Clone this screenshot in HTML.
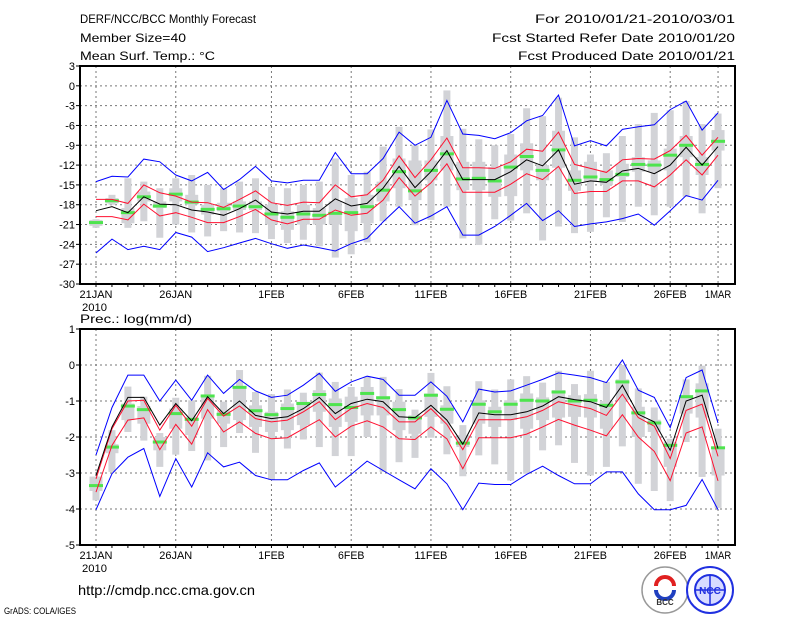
<!DOCTYPE html>
<html><head><meta charset="utf-8"><style>
html,body{margin:0;padding:0;background:#fff;}
svg{display:block;font-family:"Liberation Sans",sans-serif;}
</style></head><body>
<svg id="c" width="800" height="618" viewBox="0 0 800 618">
<g id="hdr" font-size="12" fill="#000">
<text x="80" y="23" textLength="176" lengthAdjust="spacingAndGlyphs">DERF/NCC/BCC Monthly Forecast</text>
<text x="80" y="42" textLength="106" lengthAdjust="spacingAndGlyphs">Member Size=40</text>
<text x="80" y="60" textLength="135" lengthAdjust="spacingAndGlyphs">Mean Surf. Temp.: °C</text>
<text x="535" y="23" textLength="200" lengthAdjust="spacingAndGlyphs">For 2010/01/21-2010/03/01</text>
<text x="492" y="42" textLength="243" lengthAdjust="spacingAndGlyphs">Fcst Started Refer Date 2010/01/20</text>
<text x="518" y="60" textLength="217" lengthAdjust="spacingAndGlyphs">Fcst Produced Date 2010/01/21</text>
<text x="80" y="323" textLength="112" lengthAdjust="spacingAndGlyphs">Prec.: log(mm/d)</text>
<text x="78" y="595" font-size="14" textLength="177" lengthAdjust="spacingAndGlyphs">http://cmdp.ncc.cma.gov.cn</text>
<text x="4" y="614" font-size="9" textLength="72" lengthAdjust="spacingAndGlyphs">GrADS: COLA/IGES</text>
</g>
<g>
<circle cx="665" cy="590" r="23" fill="#fff" stroke="#999" stroke-width="1.5"/>
<path d="M656 586 a9 9 0 1 1 18 0" fill="none" stroke="#e02020" stroke-width="4"/>
<path d="M656 590 a9 9 0 0 0 18 0" fill="none" stroke="#2040c0" stroke-width="4"/>
<text x="665" y="605" font-size="8" font-weight="bold" text-anchor="middle" fill="#333">BCC</text>
</g>
<g>
<circle cx="710" cy="590" r="23" fill="#fff" stroke="#2030e0" stroke-width="2"/>
<circle cx="710" cy="590" r="15" fill="#d8dcff" stroke="#2030e0" stroke-width="2"/>
<path d="M695 590 h30 M710 575 v30" stroke="#2030e0" stroke-width="1.5"/>
<text x="710" y="594" font-size="10" font-weight="bold" text-anchor="middle" fill="#2030e0">NCC</text>
</g>
<g id="p1"></g>
<g id="p2"></g>
</svg>
<script>
// ---- Temperature panel data (deg C) ----
const days = ["21JAN","","","","","26JAN","","","","","","1FEB","","","","","6FEB","","","","","11FEB","","","","","16FEB","","","","","21FEB","","","","","26FEB","","","1MAR"];
const tBlueHi = [-14.5,-13.7,-13.8,-11.1,-11.5,-13.5,-14.4,-13.1,-15.7,-14.2,-12.2,-14.4,-14.7,-14.3,-14.3,-10.1,-13.3,-13.3,-11,-7,-9,-7.8,-2.2,-7.3,-7.5,-8,-7.1,-5.3,-4.5,-1.4,-9.1,-8.3,-9.1,-6.6,-6.2,-5.9,-3.6,-2.3,-6.7,-4.1];
const tRedHi = [-17.2,-17.2,-17.8,-15,-16.2,-16.7,-17.6,-17.7,-18.4,-17.2,-15.9,-17.7,-18.1,-17.6,-17.7,-15,-16.8,-16.5,-14.3,-10.6,-13.9,-11.2,-7.9,-12.4,-12.4,-12.5,-11.5,-9.6,-9.9,-7,-11.9,-12.5,-13.1,-11.2,-11,-11.1,-9.8,-7.5,-10.5,-7.8];
const tMean = [-18.9,-18.3,-19.2,-16.8,-17.9,-18,-18.8,-19.1,-19.6,-18.6,-17.3,-19.1,-19.4,-19,-19,-17.1,-18.2,-17.8,-15.5,-12.2,-15.4,-13,-9.8,-14.2,-14.2,-14.2,-13,-11.2,-12.1,-9.7,-14.9,-14.4,-14.6,-12.9,-12.5,-13.3,-12,-9.3,-12,-9.2];
const tRedLo = [-19.8,-19.8,-20.3,-17.9,-19.7,-19.2,-19.9,-20.7,-20.7,-19.8,-18.7,-20.3,-20.9,-20.2,-20.2,-18.8,-19.6,-19.3,-17.3,-13.9,-16.7,-14.7,-11.8,-16.1,-16.1,-16.1,-14.9,-13.3,-14.2,-12.2,-16.3,-16,-16,-14.4,-14.4,-15.3,-13.5,-11.2,-13.5,-10.5];
const tBlueLo = [-25.3,-23.2,-24.8,-24.3,-24.8,-22.2,-22.9,-25.1,-24.5,-23.8,-23.1,-23.9,-24.6,-24.1,-24.5,-25,-23.9,-23.1,-20.6,-18.3,-20.8,-19.7,-18.3,-22.6,-22.6,-21.3,-19.6,-17.8,-20.4,-18.9,-21.3,-20.9,-20.6,-20.1,-19.4,-21.1,-18.9,-16.6,-17.3,-14.3];
const tObs = [-20.7,-17.4,-19.2,-16.8,-18.2,-16.4,-17.6,-18.7,-18.6,-18.2,-18.3,-19.4,-19.9,-19.4,-19.6,-19.3,-19.2,-18.3,-15.8,-13,-15.9,-12.8,-10.3,-14.1,-14,-14.4,-12.3,-10.7,-12.8,-9.7,-14.3,-13.8,-14.2,-13.4,-11.9,-12,-10.5,-9,-11.9,-8.4];
const tRangeHi = [-20.2,-16.5,-14,-14.5,-15.5,-14,-13.5,-15,-15.5,-14.5,-14,-15.3,-15.5,-15,-14.5,-11,-13.5,-13,-9.2,-6.2,-9,-6.6,-0.7,-6.5,-8.1,-9,-7.3,-3.4,-4.6,-1.8,-7.8,-10.4,-10.2,-7.6,-5.8,-4.1,-3.7,-2.3,-5.8,-4.2];
const tRangeLo = [-21.5,-18,-21.5,-20.5,-23,-21,-22.2,-22.8,-22,-22.2,-22.3,-23.2,-23.8,-23.3,-24.3,-26,-25.5,-23.7,-20.5,-18.3,-21.1,-20.3,-18.3,-23.1,-24.1,-20.2,-20.4,-19.3,-23.4,-21.3,-22.3,-22.1,-19.9,-20.6,-18.3,-19.6,-18.3,-16.8,-19.3,-15.5];
const tBoxHi = [-20.3,-17,-18.5,-16,-17.5,-15.5,-16.5,-18,-17.7,-17.5,-17.5,-18,-19,-18,-18.5,-17.5,-17,-16.5,-14.5,-11,-11.3,-11.3,-7.6,-11.5,-11.5,-12.3,-10.4,-8.7,-12,-6.8,-12.8,-11.5,-12.8,-11.8,-10.8,-11.3,-9.5,-7.6,-10.8,-6.7];
const tBoxLo = [-21.2,-17.8,-20.8,-17.5,-18.5,-17.5,-18,-19.5,-19,-18.8,-18.8,-21,-21.8,-21,-21,-21,-22,-20.8,-17.5,-15.5,-17.3,-14.3,-12.8,-15.8,-15.8,-16.8,-16.7,-12.8,-14.3,-12.4,-15.9,-14.5,-15,-13.8,-13,-13,-12.8,-10.8,-13.5,-9.8];
const tTicks = [3,0,-3,-6,-9,-12,-15,-18,-21,-24,-27,-30];
// ---- Precipitation panel data (log mm/d) ----
const pBlueHi = [-2.5,-1.18,-0.28,-0.28,-1,-0.42,-0.98,-0.28,-0.79,-0.4,-0.72,-0.9,-0.84,-0.56,-0.23,-0.73,-0.47,-0.31,-0.4,-0.84,-0.84,-0.47,-0.87,-1.58,-0.67,-0.75,-0.72,-0.56,-0.4,-0.22,-0.28,-0.35,-0.49,0.14,-0.7,-0.9,-1.74,-0.35,-0.14,-1.61];
const pRedHi = [-3.16,-1.77,-1,-0.98,-1.81,-1.12,-1.7,-0.93,-1.42,-1.14,-1.49,-1.58,-1.53,-1.3,-1.02,-1.52,-1.21,-1.07,-1.18,-1.58,-1.58,-1.21,-1.65,-2.35,-1.52,-1.52,-1.52,-1.44,-1.26,-1.02,-1.12,-1.21,-1.4,-0.81,-1.46,-1.7,-2.6,-1.26,-1.09,-2.54];
const pMean = [-3.07,-1.72,-0.9,-0.9,-1.67,-1.07,-1.55,-0.88,-1.35,-1,-1.4,-1.49,-1.44,-1.21,-0.9,-1.35,-1.07,-0.95,-1.02,-1.44,-1.46,-1.12,-1.53,-2.2,-1.33,-1.38,-1.38,-1.3,-1.14,-0.88,-0.96,-1.02,-1.18,-0.56,-1.37,-1.58,-2.37,-1,-0.84,-2.32];
const pRedLo = [-3.53,-2.23,-1.53,-1.47,-2.35,-1.65,-2.2,-1.24,-1.86,-1.58,-1.9,-2.05,-2.02,-1.77,-1.52,-2,-1.7,-1.55,-1.72,-2.05,-2.07,-1.72,-2.05,-2.88,-2.02,-2.02,-2.02,-1.92,-1.72,-1.51,-1.67,-1.81,-1.97,-1.38,-2,-2.4,-3.21,-1.89,-1.72,-3.22];
const pBlueLo = [-4.02,-3.02,-2.56,-2.32,-3.65,-2.6,-3.39,-2.44,-2.83,-2.7,-3.07,-3.19,-3.19,-2.93,-2.72,-3.39,-3.04,-2.67,-2.93,-3.19,-3.44,-2.88,-3.3,-4.02,-3.28,-3.32,-3.32,-3.04,-2.81,-3.07,-3.3,-3.3,-2.97,-2.97,-3.58,-4.02,-4.02,-3.9,-3.18,-4.02];
const pObs = [-3.35,-2.28,-1.14,-1.24,-2.14,-1.35,-1.51,-0.86,-1.37,-0.62,-1.27,-1.38,-1.21,-1.07,-0.82,-1.1,-1.18,-0.79,-0.91,-1.24,-1.47,-0.84,-1.23,-2.17,-1.09,-1.3,-1.09,-0.98,-1,-0.75,-1,-0.98,-1.12,-0.47,-1.33,-1.61,-2.23,-0.88,-0.72,-2.3];
const pRangeHi = [-3.1,-1.81,-0.6,-0.88,-1.89,-0.91,-0.98,-0.3,-1.02,-0.14,-0.75,-0.81,-0.68,-0.77,-0.21,-0.47,-0.61,-0.33,-0.33,-0.67,-1.24,-0.22,-0.59,-1.67,-0.45,-0.68,-0.4,-0.31,-0.49,-0.16,-0.53,-0.16,-0.47,0,-0.65,-1.18,-2.05,-0.4,-0.02,-1.77];
const pRangeLo = [-3.76,-2.97,-1.86,-2.1,-2.83,-2.49,-2.39,-2.65,-2.28,-1.89,-2.44,-3.19,-2.32,-2.07,-2.28,-2.53,-2.53,-2,-2.97,-2.7,-2.58,-2.02,-2.48,-3.09,-2.51,-2.76,-3.21,-3.02,-2.37,-2.23,-2.72,-3.07,-2.83,-2.26,-3.3,-3.5,-3.78,-2.14,-3.11,-3.97];
const pBoxHi = [-3.1,-2.2,-1.07,-1.14,-2,-1.21,-1.44,-0.84,-1.26,-0.61,-1.12,-1.3,-1.07,-1.02,-0.7,-0.93,-0.88,-0.61,-0.87,-1.02,-1.4,-0.79,-1.12,-1.95,-0.98,-1.16,-0.98,-0.79,-0.9,-0.7,-0.84,-0.81,-1,-0.4,-1.16,-1.52,-2.14,-0.87,-0.51,-2.32];
const pBoxLo = [-3.5,-2.45,-1.53,-1.63,-2.37,-1.77,-1.95,-1.49,-1.63,-1.53,-1.72,-1.86,-1.81,-1.67,-1.3,-1.72,-1.58,-1.4,-1.4,-1.81,-1.91,-1.44,-1.63,-2.28,-1.63,-1.72,-1.53,-1.77,-1.53,-1.46,-1.44,-1.46,-1.77,-0.98,-2,-1.86,-2.83,-1.35,-1.46,-3.07];
const pTicks = [1,0,-1,-2,-3,-4,-5];

const NS = "http://www.w3.org/2000/svg";
function mk(parent, tag, attrs) {
  const e = document.createElementNS(NS, tag);
  for (const k in attrs) e.setAttribute(k, attrs[k]);
  parent.appendChild(e);
  return e;
}
const X0 = 80, X1 = 735;
function xDay(i) { return 96 + i * 15.95; }

function panel(g, top, bot, vmax, vmin, ticks, s, pname) {
  const y = v => top + (vmax - v) / (vmax - vmin) * (bot - top);
  days.forEach((d, i) => {
    if (!d) return;
    const l = mk(g, "line", {x1: xDay(i), x2: xDay(i), y1: top, y2: bot, stroke: "#777", "stroke-dasharray": "2,3", "stroke-width": 1});
    
    
    const t = mk(g, "text", {x: xDay(i), y: bot + 14, "font-size": 11, "text-anchor": "middle", textLength: d.length * 6.6, lengthAdjust: "spacingAndGlyphs"});
    t.textContent = d;
    
    
  });
  const yr = mk(g, "text", {x: 82, y: bot + 27, "font-size": 11, textLength: 25, lengthAdjust: "spacingAndGlyphs"});
  yr.textContent = "2010";
  
  
  ticks.forEach(v => {
    if (v !== vmax && v !== vmin) {
      const l = mk(g, "line", {x1: X0, x2: X1, y1: y(v), y2: y(v), stroke: "#777", "stroke-dasharray": "2,3", "stroke-width": 1});
      
      
    }
    mk(g, "line", {x1: X0 - 4, x2: X0, y1: y(v), y2: y(v), stroke: "#000"});
    const t = mk(g, "text", {x: X0 - 5, y: y(v) + 4, "font-size": 11, "text-anchor": "end"});
    t.textContent = v;
    
    
  });
  s.rHi.forEach((v, i) => {
    const r1 = mk(g, "rect", {x: xDay(i) - 3.5, width: 7, y: y(v), height: Math.max(1, y(s.rLo[i]) - y(v)), fill: "#d2d3d7"});
    
    
    const r2 = mk(g, "rect", {x: xDay(i) - 6.5, width: 13, y: y(s.bHi[i]), height: Math.max(1, y(s.bLo[i]) - y(s.bHi[i])), fill: "#d2d3d7"});
    
    
  });
  s.obs.forEach((v, i) => {
    const r = mk(g, "rect", {x: xDay(i) - 7, width: 14, y: y(v) - 1.5, height: 3, fill: "#4ee44e"});
    
    
  });
  [[s.blueHi, "#0000ff", "blue-max-line"], [s.blueLo, "#0000ff", "blue-min-line"], [s.redHi, "#ff1030", "red-upper-line"], [s.redLo, "#ff1030", "red-lower-line"], [s.mean, "#000", "mean-line"]].forEach(([arr, col, nm]) => {
    const p = mk(g, "polyline", {points: arr.map((v, i) => xDay(i).toFixed(1) + "," + y(v).toFixed(1)).join(" "), fill: "none", stroke: col, "stroke-width": 1});
    
    
  });
  const f = mk(g, "rect", {x: X0, y: top, width: X1 - X0, height: bot - top, fill: "none", stroke: "#000", "stroke-width": 2});
  
  
  days.forEach((d, i) => { mk(g, "line", {x1: xDay(i), x2: xDay(i), y1: bot, y2: bot + 3, stroke: "#000"}); });
}
panel(document.getElementById("p1"), 66, 284, 3, -30, tTicks,
  {rHi: tRangeHi, rLo: tRangeLo, bHi: tBoxHi, bLo: tBoxLo, obs: tObs, blueHi: tBlueHi, blueLo: tBlueLo, redHi: tRedHi, redLo: tRedLo, mean: tMean}, "temp");
panel(document.getElementById("p2"), 329, 545, 1, -5, pTicks,
  {rHi: pRangeHi, rLo: pRangeLo, bHi: pBoxHi, bLo: pBoxLo, obs: pObs, blueHi: pBlueHi, blueLo: pBlueLo, redHi: pRedHi, redLo: pRedLo, mean: pMean}, "prec");
</script>
</body></html>
